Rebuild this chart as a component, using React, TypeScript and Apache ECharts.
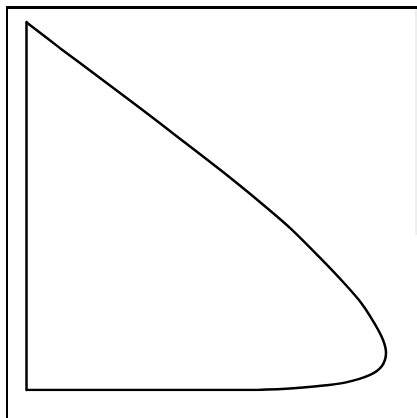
import React, { useEffect, useRef } from "react";
import * as echarts from "echarts";

// Closed curve: x and y on a normalized 0..1 scale, from the apex down to the base
const curveX = [0, 0.092, 0.2, 0.308, 0.416, 0.524, 0.632, 0.714, 0.795, 0.862, 0.908, 0.943, 0.965, 0.973, 0.962, 0.93, 0.862, 0.786, 0.714, 0.605, 0];
const curveY = [1.0, 0.929, 0.848, 0.766, 0.683, 0.599, 0.511, 0.44, 0.359, 0.288, 0.234, 0.179, 0.136, 0.101, 0.065, 0.041, 0.02, 0.01, 0.004, 0, 0];

export default function App() {
  const ref = useRef<HTMLDivElement>(null);

  useEffect(() => {
    if (!ref.current) return;
    const chart = echarts.init(ref.current, undefined, { renderer: "svg" });
    const data = curveX.map((x, i) => [x, curveY[i]]);
    chart.setOption({
      animation: false,
      backgroundColor: "#ffffff",
      grid: { left: 26, top: 22, width: 370, height: 368 },
      xAxis: {
        type: "value",
        min: 0,
        max: 1,
        axisLine: { show: false },
        axisTick: { show: false },
        axisLabel: { show: false },
        splitLine: { show: false },
      },
      yAxis: {
        type: "value",
        min: 0,
        max: 1,
        axisLine: { show: true, lineStyle: { color: "#000", width: 2.5 } },
        axisTick: { show: false },
        axisLabel: { show: false },
        splitLine: { show: false },
      },
      series: [
        {
          type: "line",
          data,
          smooth: 0.3,
          showSymbol: false,
          lineStyle: { color: "#000", width: 2.5 },
        },
      ],
      graphic: [
        { type: "line", shape: { x1: 6, y1: 7.5, x2: 417, y2: 7.5 }, style: { stroke: "#000", lineWidth: 3 } },
        { type: "line", shape: { x1: 7, y1: 6, x2: 7, y2: 418 }, style: { stroke: "#000", lineWidth: 2 } },
        { type: "line", shape: { x1: 416, y1: 9, x2: 416, y2: 235 }, style: { stroke: "#dddddd", lineWidth: 1 } },
      ],
    });
    return () => chart.dispose();
  }, []);

  return (
    <div
      ref={ref}
      style={{ position: "fixed", left: 0, top: 0, width: 417, height: 418 }}
    />
  );
}
